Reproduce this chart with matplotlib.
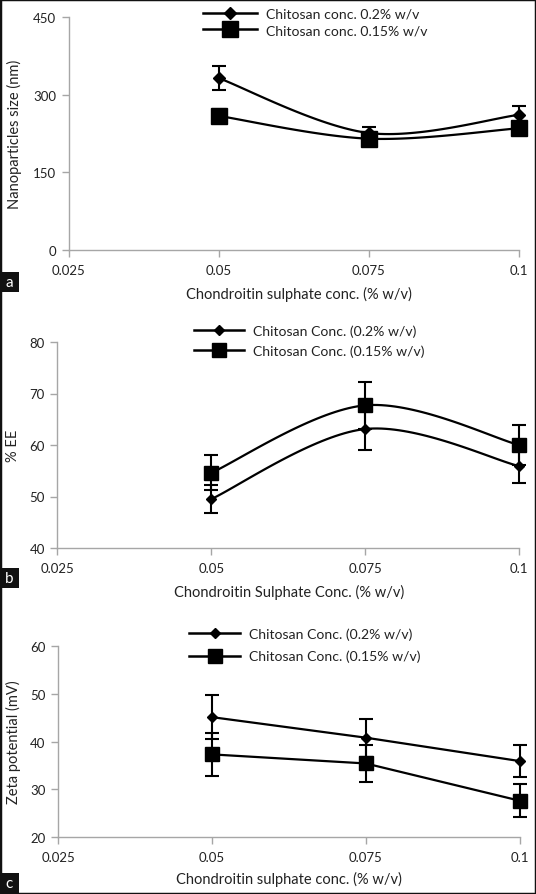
import numpy as np
import matplotlib
matplotlib.use("Agg")
import matplotlib.pyplot as plt
from matplotlib.patches import Rectangle
from matplotlib.lines import Line2D

plt.rcParams['font.family'] = ['Lato', 'DejaVu Sans']

# ---------------- data ----------------
cs_conc = [0.05, 0.075, 0.1]
x_ticks = [0.025, 0.05, 0.075, 0.1]
x_ticklabels = ["0.025", "0.05", "0.075", "0.1"]

# panel a: particle size (nm)
size_02 = [332, 226, 261]
size_02_err = [23, 12, 17]
size_015 = [259, 215, 235]
size_015_err = [14, 5, 8]
size_yticks = [0, 150, 300, 450]

# panel b: %EE
ee_02 = [49.5, 63.1, 55.9]
ee_02_err = [2.7, 4.1, 3.3]
ee_015 = [54.6, 67.7, 60.0]
ee_015_err = [3.4, 4.5, 3.9]
ee_yticks = [40, 50, 60, 70, 80]

# panel c: zeta potential (mV)
zeta_02 = [45.1, 40.8, 35.9]
zeta_02_err = [4.6, 4.0, 3.3]
zeta_015 = [37.3, 35.4, 27.6]
zeta_015_err = [4.5, 3.9, 3.4]
zeta_yticks = [20, 30, 40, 50, 60]

W, H = 536, 895
fig = plt.figure(figsize=(W / 100, H / 100), dpi=100)
renderer = fig.canvas.get_renderer()

TXT = '#222222'
SP = '#a6a6a6'


def fit_size(s, target_px, base=10.0):
    t = fig.text(0, 0, s, fontsize=base)
    w = t.get_window_extent(renderer).width
    t.remove()
    return base * target_px / w


FS_LEG = fit_size('Chitosan conc. 0.2% w/v', 153)
FS_LAB = fit_size('Chondroitin sulphate conc. (% w/v)', 226)
FS_TICK = fit_size('0.025', 34)


def smooth(x, y, n=40):
    x = np.asarray(x, float); y = np.asarray(y, float)
    xs, ys = [], []
    for i in range(len(x) - 1):
        p0 = np.array([x[i], y[i]]); p3 = np.array([x[i + 1], y[i + 1]])
        pm = np.array([x[i - 1], y[i - 1]]) if i > 0 else p0
        pp = np.array([x[i + 2], y[i + 2]]) if i + 2 < len(x) else p3
        c1 = p0 + (p3 - pm) / 6.0
        c2 = p3 - (pp - p0) / 6.0
        t = np.linspace(0, 1, n)[:, None]
        b = (1 - t) ** 3 * p0 + 3 * (1 - t) ** 2 * t * c1 + 3 * (1 - t) * t ** 2 * c2 + t ** 3 * p3
        xs.extend(b[:, 0]); ys.extend(b[:, 1])
    return np.array(xs), np.array(ys)


def px_axes(left, right, top, bottom):
    return fig.add_axes([left / W, 1 - bottom / H, (right - left) / W, (bottom - top) / H])


def panel(ax, y1, e1, y2, e2, yticks, ylabel, xlabel, smooth_line, sq, dm,
          ylab_x, xlab_y, xlab_x, leg_anchor, leg_spacing, hl, labels):
    for y, e, mk, ms in [(y1, e1, 'D', dm), (y2, e2, 's', sq)]:
        if smooth_line:
            sx, sy = smooth(cs_conc, y)
        else:
            sx, sy = cs_conc, y
        ax.plot(sx, sy, color='black', lw=1.6, clip_on=False, zorder=3)
        ax.errorbar(cs_conc, y, yerr=e, fmt='none', ecolor='black', elinewidth=1.5,
                    capsize=4.8, capthick=1.5, clip_on=False, zorder=3)
        ax.plot(cs_conc, y, ls='none', marker=mk, ms=ms, color='black', clip_on=False, zorder=4)
    ax.set_xlim(x_ticks[0], x_ticks[-1])
    ax.set_ylim(yticks[0], yticks[-1])
    ax.set_xticks(x_ticks)
    ax.set_xticklabels(x_ticklabels)
    ax.set_yticks(yticks)
    for s in ['top', 'right']:
        ax.spines[s].set_visible(False)
    for s in ['left', 'bottom']:
        ax.spines[s].set_color(SP)
        ax.spines[s].set_linewidth(1.0)
    ax.tick_params(axis='both', direction='out', color=SP, length=5, width=1.0,
                   labelsize=FS_TICK, labelcolor=TXT)
    ax.tick_params(axis='x', pad=5)
    ax.tick_params(axis='y', pad=4)
    ax.set_ylabel(ylabel, fontsize=FS_LAB, color=TXT)
    ax.yaxis.set_label_coords(ylab_x, 0.5)
    ax.set_xlabel(xlabel, fontsize=FS_LAB, color=TXT)
    ax.xaxis.set_label_coords(xlab_x, xlab_y)
    handles = [Line2D([], [], color='black', lw=1.8, marker='D', ms=dm),
               Line2D([], [], color='black', lw=1.8, marker='s', ms=sq)]
    fs_px = FS_LEG * 100 / 72
    ax.legend(handles, labels, loc='center left',
              bbox_to_anchor=(leg_anchor[0] / W, 1 - leg_anchor[1] / H),
              bbox_transform=fig.transFigure, frameon=False, borderpad=0,
              borderaxespad=0, handlelength=hl / fs_px, handletextpad=9 / fs_px,
              labelspacing=leg_spacing, fontsize=FS_LEG, labelcolor=TXT)


ax_a = px_axes(68.7, 518.6, 18, 251)
panel(ax_a, size_02, size_02_err, size_015, size_015_err, size_yticks,
      'Nanoparticles size (nm)', 'Chondroitin sulphate conc. (% w/v)', True, 11, 6,
      -0.104, -0.155, 0.512, (203, 23), 0.3, 54,
      ['Chitosan conc. 0.2% w/v', 'Chitosan conc. 0.15% w/v'])

ax_b = px_axes(57.4, 519, 343, 549)
panel(ax_b, ee_02, ee_02_err, ee_015, ee_015_err, ee_yticks,
      '% EE', 'Chondroitin Sulphate Conc. (% w/v)', True, 9.5, 5.5,
      -0.08, -0.175, 0.502, (194, 342), 0.55, 50,
      ['Chitosan Conc. (0.2% w/v)', 'Chitosan Conc. (0.15% w/v)'])

ax_c = px_axes(58.1, 519.7, 647, 838)
panel(ax_c, zeta_02, zeta_02_err, zeta_015, zeta_015_err, zeta_yticks,
      'Zeta potential (mV)', 'Chondroitin sulphate conc. (% w/v)', False, 10.5, 5.5,
      -0.081, -0.178, 0.500, (189, 646), 0.7, 51,
      ['Chitosan Conc. (0.2% w/v)', 'Chitosan Conc. (0.15% w/v)'])

# panel letters
for letter, top in [('a', 273), ('b', 569), ('c', 874)]:
    fig.patches.append(Rectangle((0, 1 - (top + 20) / H), 19 / W, 20 / H,
                                 transform=fig.transFigure, facecolor='#111111',
                                 edgecolor='none', zorder=5))
    fig.text(9.5 / W, 1 - (top + 10) / H, letter, color='white', fontsize=11,
             ha='center', va='center', zorder=6)

# outer frame
fig.patches.append(Rectangle((0, 0), 1, 1, transform=fig.transFigure, fill=False,
                             edgecolor='#111111', linewidth=2.5, zorder=10))

fig.savefig('out.png', dpi=100)
